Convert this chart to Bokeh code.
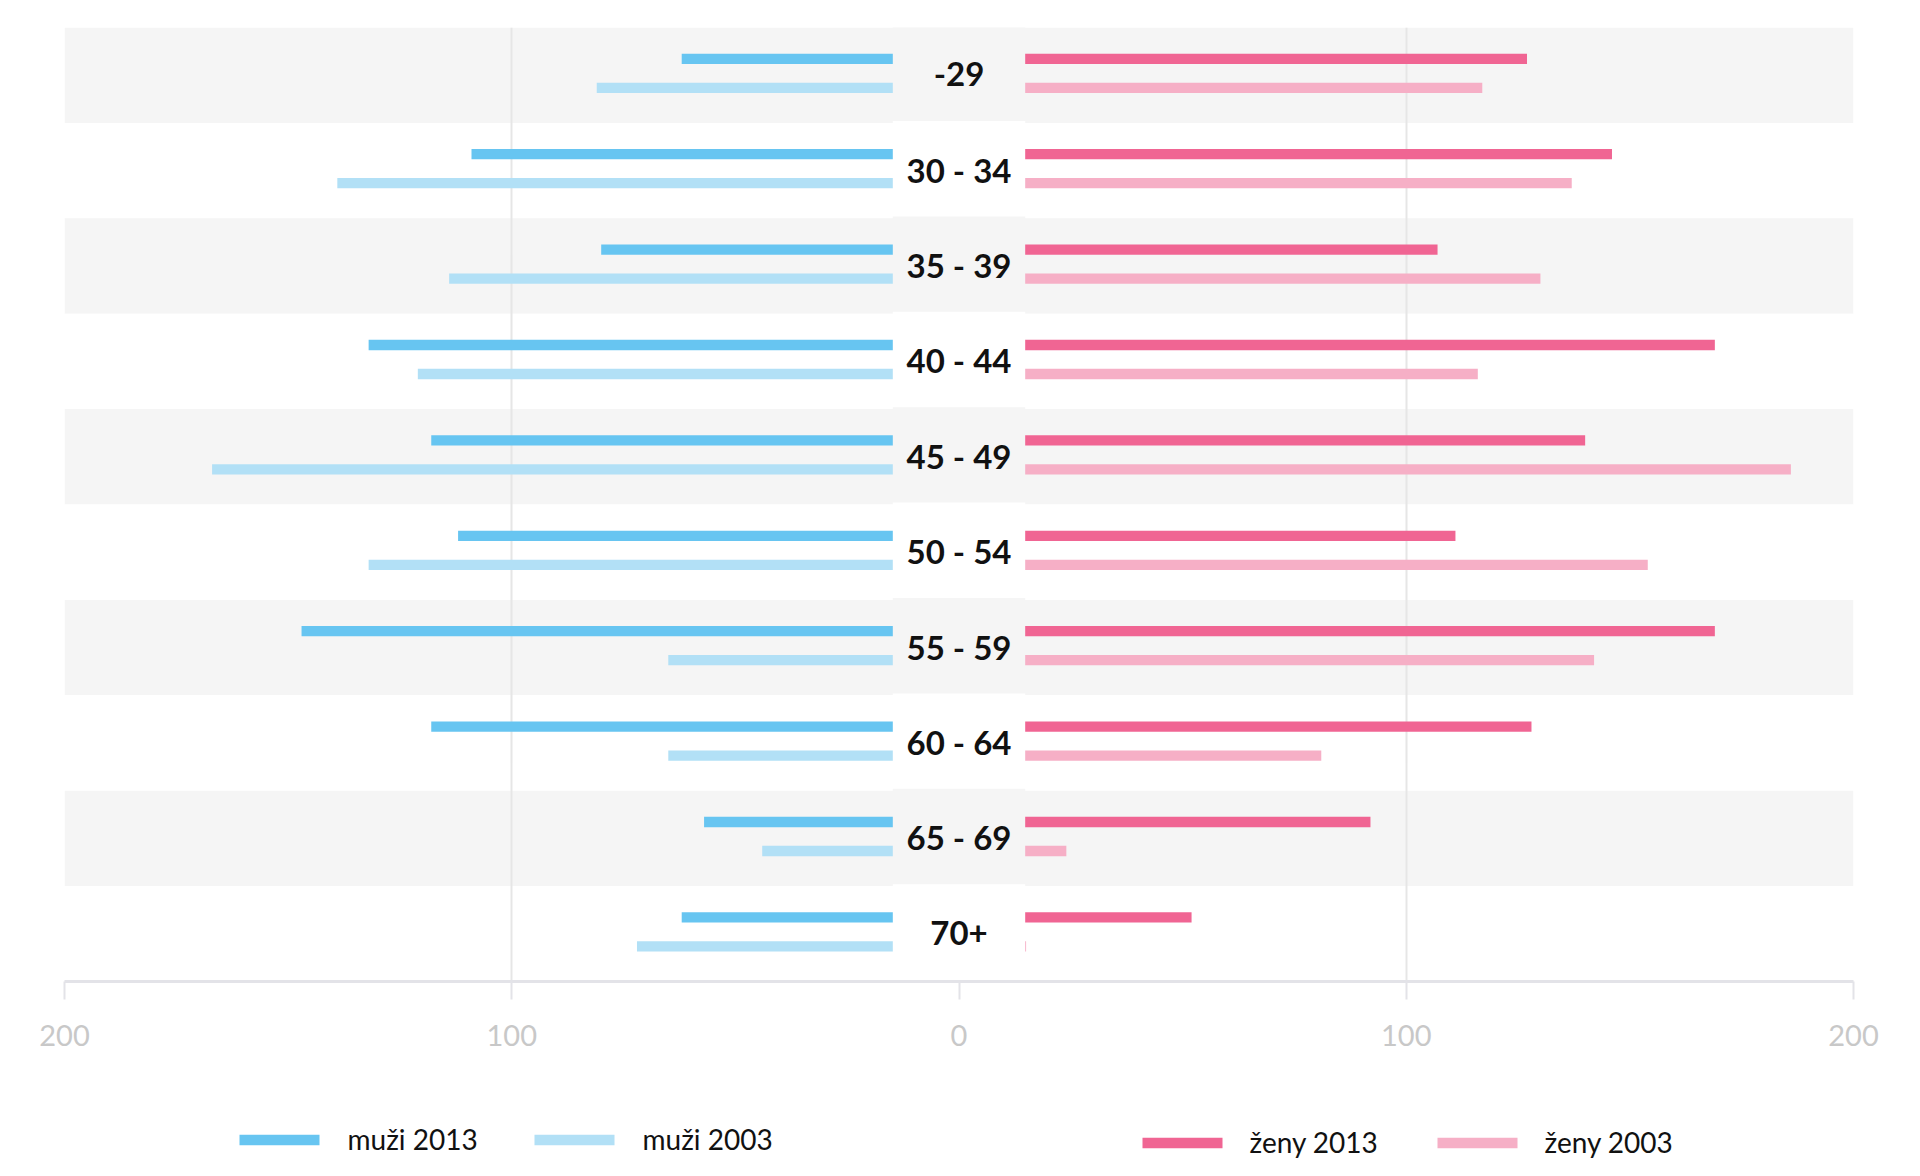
from bokeh.plotting import figure
from bokeh.models import Range1d, FixedTicker
from bokeh.layouts import column
from bokeh.core.properties import value
from bokeh.embed import file_html
from bokeh.resources import INLINE

# ---- data ----
categories = ["-29", "30 - 34", "35 - 39", "40 - 44", "45 - 49",
              "50 - 54", "55 - 59", "60 - 64", "65 - 69", "70+"]
men_2013 = [62, 109, 80, 132, 118, 112, 147, 118, 57, 62]
men_2003 = [81, 139, 114, 121, 167, 132, 65, 65, 44, 72]
women_2013 = [127, 146, 107, 169, 140, 111, 169, 128, 92, 52]
women_2003 = [117, 137, 130, 116, 186, 154, 142, 81, 24, 15]
tick_values = [-200, -100, 0, 100, 200]
tick_labels = ["200", "100", "0", "100", "200"]
legend_labels = ["muži 2013", "muži 2003", "ženy 2013", "ženy 2003"]

# ---- styles ----
C_M13 = "#67c5f1"
C_M03 = "#b2e0f6"
C_W13 = "#f06593"
C_W03 = "#f6afc6"
BAND = "#f5f5f5"
FONT = "Lato"

n = len(categories)
ys = list(range(n))
band_colors = [BAND if i % 2 == 0 else "#ffffff" for i in ys]
center_half = 14.8

BL, BR, FW = 64, 55, 1789
BT, FH, BB = 27, 954, 100

p = figure(frame_width=FW, frame_height=FH,
           min_border_left=BL, min_border_right=BR,
           min_border_top=BT, min_border_bottom=BB,
           x_range=Range1d(-200, 200), y_range=Range1d(n - 0.5, -0.5),
           y_axis_location=None, toolbar_location=None,
           output_backend="svg", outline_line_color=None,
           background_fill_color="white", border_fill_color="white")

# bands
p.quad(left=-200, right=200, top=[y - 0.5 for y in ys], bottom=[y + 0.5 for y in ys],
       fill_color=band_colors, line_color=None, level="image")

off_dark = -0.172
off_light = 0.132
bh = 0.108

p.hbar(y=[y + off_dark for y in ys], left=[-v for v in men_2013], right=0,
       height=bh, fill_color=C_M13, line_color=None)
p.hbar(y=[y + off_light for y in ys], left=[-v for v in men_2003], right=0,
       height=bh, fill_color=C_M03, line_color=None)
p.hbar(y=[y + off_dark for y in ys], left=0, right=women_2013,
       height=bh, fill_color=C_W13, line_color=None)
p.hbar(y=[y + off_light for y in ys], left=0, right=women_2003,
       height=bh, fill_color=C_W03, line_color=None)

# central label boxes
p.quad(left=-center_half, right=center_half,
       top=[y - 0.52 for y in ys], bottom=[y + 0.49 for y in ys],
       fill_color=band_colors, line_color=None)
p.text(x=0, y=[y - 0.01 for y in ys], text=categories,
       text_align="center", text_baseline="middle",
       text_font=value(FONT), text_font_style="bold",
       text_font_size="33px", text_color="#111111")

# grid & axis
p.ygrid.visible = False
p.xgrid.ticker = FixedTicker(ticks=[-100, 100])
p.xgrid.grid_line_color = "#e6e6e6"
p.xgrid.grid_line_width = 2
p.xaxis.ticker = FixedTicker(ticks=tick_values)
p.xaxis.major_label_overrides = {t: l for t, l in zip(tick_values, tick_labels)}
p.xaxis.axis_line_color = "#e3e3e8"
p.xaxis.axis_line_width = 3
p.xaxis.major_tick_line_color = "#e3e3e8"
p.xaxis.major_tick_line_width = 2
p.xaxis.major_tick_out = 18
p.xaxis.major_tick_in = 0
p.xaxis.minor_tick_line_color = None
p.xaxis.major_label_text_font = FONT
p.xaxis.major_label_text_font_size = "29px"
p.xaxis.major_label_text_color = "#c8c8c8"
p.xaxis.major_label_standoff = 25

# ---- legend strip (screen-pixel coordinates) ----
top_px = BT + FH + BB
LH = 90
lf = figure(frame_width=FW, frame_height=LH, min_border_left=BL, min_border_right=BR,
            min_border_top=0, min_border_bottom=0,
            x_range=Range1d(BL, BL + FW), y_range=Range1d(top_px + LH, top_px),
            toolbar_location=None, output_backend="svg",
            x_axis_location=None, y_axis_location=None, outline_line_color=None,
            background_fill_color="white", border_fill_color="white")
lf.grid.visible = False
sw_left = [239, 534, 1142, 1437]
sw_y = [1139.5, 1139.5, 1142.5, 1142.5]
lf.quad(left=sw_left, right=[x + 80 for x in sw_left],
        top=[y - 5.3 for y in sw_y], bottom=[y + 5.3 for y in sw_y],
        fill_color=[C_M13, C_M03, C_W13, C_W03], line_color=None)
lf.text(x=[347, 642, 1249, 1544], y=[1138, 1138, 1141, 1141], text=legend_labels,
        text_align="left", text_baseline="middle", text_font=value(FONT),
        text_font_size="28px", text_color="#111111")

layout = column(p, lf, spacing=0)
open("out.html", "w").write(file_html(layout, INLINE))
